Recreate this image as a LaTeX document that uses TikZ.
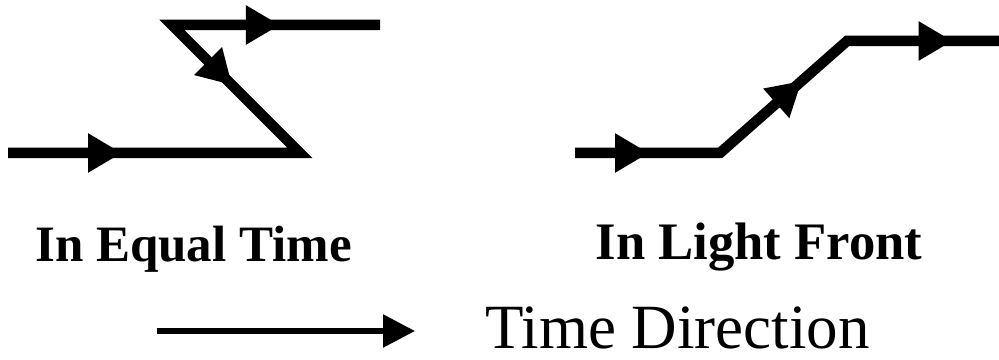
\documentclass[tikz,border=0pt]{standalone}
\usepackage{fontspec}
\setmainfont{Liberation Serif}
\usetikzlibrary{arrows.meta,decorations.markings}

\begin{document}
\begin{tikzpicture}[x=1pt,y=1pt,
   worldline/.style={line width=10.5pt,line join=miter},
   fwdtip/.style={postaction={decorate,decoration={markings,
      mark=at position #1 with {\arrow{Triangle[length=34pt,width=37pt]}}}}},
   revtip/.style={postaction={decorate,decoration={markings,
      mark=at position #1 with {\arrowreversed{Triangle[length=34pt,width=37pt]}}}}},
   caption/.style={inner sep=0pt,anchor=base,font=\bfseries\fontsize{#1}{#1}\selectfont}]
\useasboundingbox (0,0) rectangle (999,359);
% equal time
\coordinate (e1) at (8,206);
\coordinate (e2) at (300,206);
\coordinate (e3) at (172,334);
\coordinate (e4) at (380,334);
\draw[worldline,fwdtip=114pt,revtip=388pt,fwdtip=581pt] (e1) -- (e2) -- (e3) -- (e4);
% light front
\coordinate (f1) at (575,206);
\coordinate (f2) at (720,206);
\coordinate (f3) at (847,318);
\coordinate (f4) at (999,318);
\draw[worldline,fwdtip=74pt,fwdtip=254pt,fwdtip=420pt] (f1) -- (f2) -- (f3) -- (f4);
\node[caption=51] (eqtime) at (193.5,97) {In Equal Time};
\node[caption=52.7] (lightfront) at (759,99) {In Light Front};
% legend
\coordinate (tstart) at (157,28);
\coordinate (tend) at (415,28);
\draw[line width=5.5pt,-{Triangle[length=32pt,width=32pt]}] (tstart) -- (tend);
\node[inner sep=0pt,anchor=base west,font=\fontsize{63}{63}\selectfont] (tdir) at (485,11) {Time Direction};
\end{tikzpicture}
\end{document}
